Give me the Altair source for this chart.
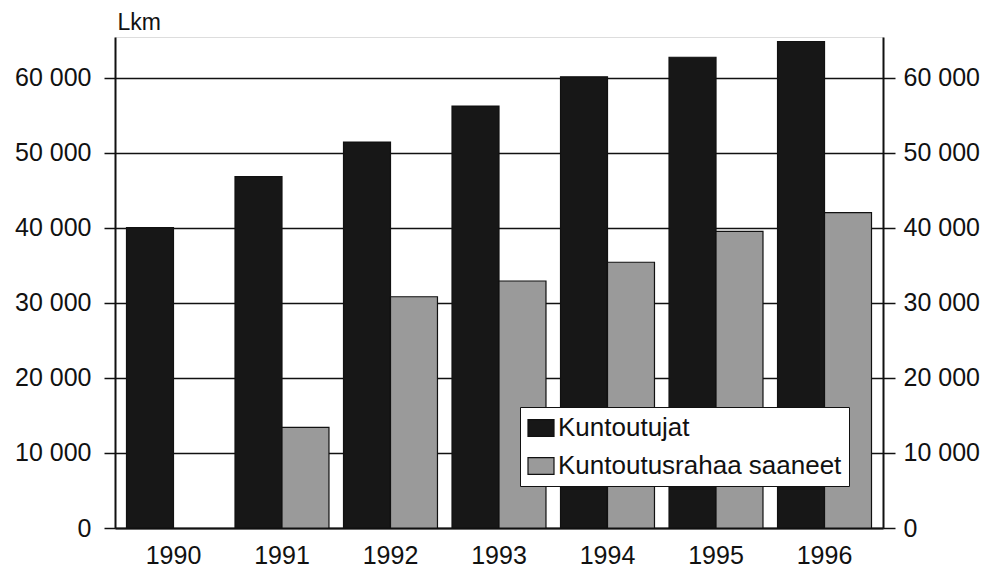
import altair as alt
import pandas as pd

years = ["1990", "1991", "1992", "1993", "1994", "1995", "1996"]
kuntoutujat = [40000, 46800, 51400, 56200, 60100, 62700, 64800]
rahaa_saaneet = [None, 13400, 30800, 32900, 35400, 39500, 42000]
series = ["Kuntoutujat", "Kuntoutusrahaa saaneet"]
y_ticks = [0, 10000, 20000, 30000, 40000, 50000, 60000]

rows = []
for i, yr in enumerate(years):
    rows.append({"year": yr, "series": series[0], "value": kuntoutujat[i]})
    rows.append({"year": yr, "series": series[1], "value": rahaa_saaneet[i]})
df = pd.DataFrame(rows)

FONT = "Liberation Sans"
INK = "#111111"
ydomain = [0, 65400]
label_expr = "replace(datum.label, ',', ' ')"

x_enc = alt.X(
    "year:N",
    sort=years,
    scale=alt.Scale(paddingInner=0.134, paddingOuter=0.106),
    axis=alt.Axis(title=None, labelAngle=0, ticks=False, domain=True, domainColor=INK,
                  domainWidth=2, grid=False,
                  labelFontSize=25, labelPadding=15, labelFont=FONT, labelColor=INK),
)
xoff_enc = alt.XOffset("series:N", sort=series, scale=alt.Scale(paddingInner=0, paddingOuter=0))

bars = alt.Chart(df).mark_bar(stroke=INK, strokeWidth=1.2).encode(
    x=x_enc,
    xOffset=xoff_enc,
    y=alt.Y(
        "value:Q",
        scale=alt.Scale(domain=ydomain, nice=False, zero=True),
        axis=alt.Axis(
            values=y_ticks, format=",d", labelExpr=label_expr,
            title="Lkm", titleAngle=0, titleAlign="left", titleBaseline="alphabetic",
            titleX=2, titleY=-8, titleFontSize=23, titleFontWeight="normal", titleFont=FONT,
            titleColor=INK,
            labelFontSize=25, labelFont=FONT, labelColor=INK, labelPadding=13,
            tickSize=11, tickColor=INK, tickWidth=1.5,
            domain=True, domainColor=INK, domainWidth=2,
            grid=True, gridColor=INK, gridWidth=1.5, gridOpacity=1,
        ),
    ),
    color=alt.Color(
        "series:N",
        sort=series,
        scale=alt.Scale(domain=series, range=["#171717", "#9a9a9a"]),
        legend=alt.Legend(
            title=None, orient="none", legendX=405, legendY=370,
            fillColor="white", strokeColor=INK, padding=7,
            labelFontSize=26, labelFont=FONT, labelColor=INK, labelLimit=500,
            labelOffset=3, rowPadding=11,
            symbolType="M-1,-0.65H1V0.65H-1Z", symbolSize=676,
            symbolStrokeColor=INK, symbolStrokeWidth=1.2, symbolOpacity=1,
        ),
    ),
)

right_axis = alt.Chart(df).mark_bar(opacity=0).encode(
    x=x_enc,
    xOffset=xoff_enc,
    y=alt.Y(
        "value:Q",
        scale=alt.Scale(domain=ydomain, nice=False, zero=True),
        axis=alt.Axis(
            orient="right", values=y_ticks, format=",d", labelExpr=label_expr, title=None,
            labelFontSize=25, labelFont=FONT, labelColor=INK, labelPadding=8,
            tickSize=12, tickColor=INK, tickWidth=1.5,
            domain=True, domainColor=INK, domainWidth=2, grid=False,
        ),
    ),
)

chart = (
    alt.layer(bars, right_axis)
    .resolve_scale(y="independent")
    .properties(
        width=768, height=491,
        autosize=alt.AutoSizeParams(type="none"),
        padding={"left": 107, "top": 29, "right": 105, "bottom": 40},
    )
    .configure_view(stroke=INK, strokeWidth=2)
    .configure(background="white")
)

chart.save("out.html", embed_options={"renderer": "svg", "actions": False})
